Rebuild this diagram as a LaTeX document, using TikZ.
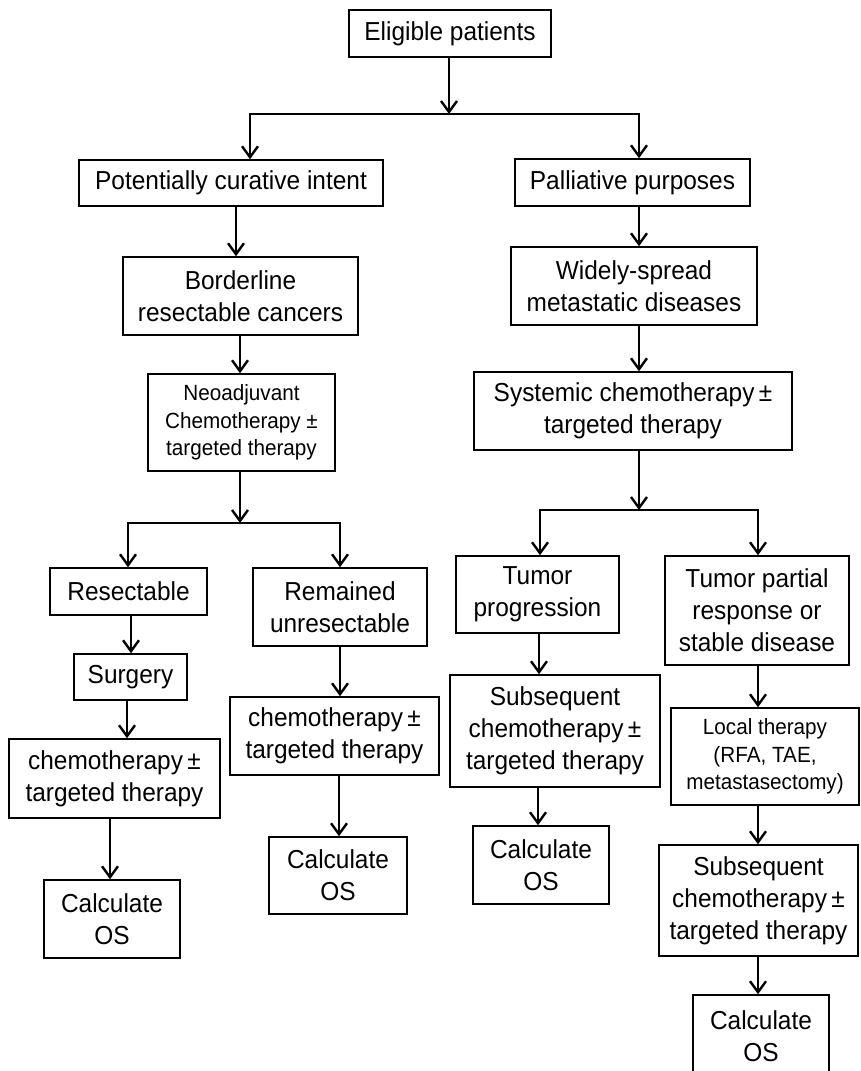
\documentclass[tikz,border=0pt]{standalone}
\usepackage{fontspec}
\setmainfont[FakeStretch=0.94]{Liberation Sans}
\newfontfamily\condfont[FakeStretch=0.94]{Liberation Sans}
\usetikzlibrary{arrows.meta}
\begin{document}
\begin{tikzpicture}[x=1pt,y=-1pt,
  box/.style={draw, line width=1.5pt, inner sep=0pt, align=center,
    font=\fontsize{26}{32}\selectfont},
  small/.style={font=\condfont\fontsize{22}{27.5}\selectfont},
  arr/.style={line width=2.4pt, -{Straight Barb[length=11pt,width=16pt,line width=2.4pt]}},
  bar/.style={line width=2.4pt, line cap=rect}]
\useasboundingbox (0,0) rectangle (860,1071);
\clip (0,0) rectangle (860,1071);
% row 1
\node[box, minimum width=202pt, minimum height=47pt] (elig) at (450,33.5) {Eligible patients};
% row 2
\node[box, minimum width=304pt, minimum height=46pt] (pot) at (231,183) {Potentially curative intent};
\node[box, minimum width=235pt, minimum height=47pt] (pal) at (632.5,182.5) {Palliative purposes};
% row 3
\node[box, minimum width=235pt, minimum height=78pt] (bord) at (240.5,296) {Borderline\\resectable cancers};
\node[box, minimum width=246pt, minimum height=78pt] (wide) at (634,286) {Widely-spread\\metastatic diseases};
% row 4
\node[box, small, minimum width=187pt, minimum height=97pt] (neo) at (241.5,422.5) {Neoadjuvant\\Chemotherapy ±\\targeted therapy};
\node[box, minimum width=318pt, minimum height=78pt] (sys) at (633,411) {Systemic chemotherapy\,±\\targeted therapy};
% row 5
\node[box, minimum width=157pt, minimum height=47pt] (res) at (128.5,591.5) {Resectable};
\node[box, minimum width=174pt, minimum height=78pt] (rem) at (340,607) {Remained\\unresectable};
\node[box, minimum width=163pt, minimum height=77pt] (tprog) at (537.5,594.5) {Tumor\\progression};
\node[box, minimum width=184pt, minimum height=109pt] (tpart) at (757,610.5) {Tumor partial\\response or\\stable disease};
% row 6
\node[box, minimum width=113pt, minimum height=46pt] (surg) at (130.5,677) {Surgery};
\node[box, minimum width=209pt, minimum height=78pt] (chemB) at (334.5,736) {chemotherapy\,±\\targeted therapy};
\node[box, minimum width=210pt, minimum height=112pt] (subL) at (555,731) {Subsequent\\chemotherapy\,±\\targeted therapy};
\node[box, small, minimum width=188pt, minimum height=97pt] (local) at (765,756.5) {Local therapy\\(RFA, TAE,\\metastasectomy)};
% row 7
\node[box, minimum width=211pt, minimum height=79pt] (chemA) at (114.5,778.5) {chemotherapy\,±\\targeted therapy};
\node[box, minimum width=199pt, minimum height=111pt] (subR) at (758.5,900.5) {Subsequent\\chemotherapy\,±\\targeted therapy};
% calculate OS
\node[box, minimum width=136pt, minimum height=78pt] (calcA) at (112,919) {Calculate\\OS};
\node[box, minimum width=138pt, minimum height=77pt] (calcB) at (338,875.5) {Calculate\\OS};
\node[box, minimum width=136pt, minimum height=78pt] (calcC) at (541,865) {Calculate\\OS};
\node[box, minimum width=136pt, minimum height=82pt] (calcD) at (761,1036) {Calculate\\OS};
% branch coordinates
\coordinate (b1) at (449,114);
\coordinate (b1L) at (250,114);
\coordinate (b1R) at (639,114);
\coordinate (b2) at (240,523);
\coordinate (b2L) at (128,523);
\coordinate (b2R) at (340,523);
\coordinate (b3) at (639,510);
\coordinate (b3L) at (540,510);
\coordinate (b3R) at (758,510);
% top split
\draw[arr] (elig.south -| b1) -- (b1);
\draw[bar] (b1L) -- (b1R);
\draw[arr] (b1L) -- (b1L |- pot.north);
\draw[arr] (b1R) -- (b1R |- pal.north);
% left column
\draw[arr] (pot.south -| 236,0) -- (bord.north -| 236,0);
\draw[arr] (bord.south -| 240,0) -- (neo.north -| 240,0);
\draw[arr] (neo.south -| b2) -- (b2);
\draw[bar] (b2L) -- (b2R);
\draw[arr] (b2L) -- (b2L |- res.north);
\draw[arr] (b2R) -- (b2R |- rem.north);
\draw[arr] (res.south -| 131,0) -- (surg.north -| 131,0);
\draw[arr] (surg.south -| 127,0) -- (chemA.north -| 127,0);
\draw[arr] (chemA.south -| 110,0) -- (calcA.north -| 110,0);
\draw[arr] (rem.south -| 340,0) -- (chemB.north -| 340,0);
\draw[arr] (chemB.south -| 339,0) -- (calcB.north -| 339,0);
% right column
\draw[arr] (pal.south -| 639,0) -- (wide.north -| 639,0);
\draw[arr] (wide.south -| 639,0) -- (sys.north -| 639,0);
\draw[arr] (sys.south -| b3) -- (b3);
\draw[bar] (b3L) -- (b3R);
\draw[arr] (b3L) -- (b3L |- tprog.north);
\draw[arr] (b3R) -- (b3R |- tpart.north);
\draw[arr] (tprog.south -| 539,0) -- (subL.north -| 539,0);
\draw[arr] (subL.south -| 538,0) -- (calcC.north -| 538,0);
\draw[arr] (tpart.south -| 758,0) -- (local.north -| 758,0);
\draw[arr] (local.south -| 758,0) -- (subR.north -| 758,0);
\draw[arr] (subR.south -| 758,0) -- (calcD.north -| 758,0);
\end{tikzpicture}
\end{document}
